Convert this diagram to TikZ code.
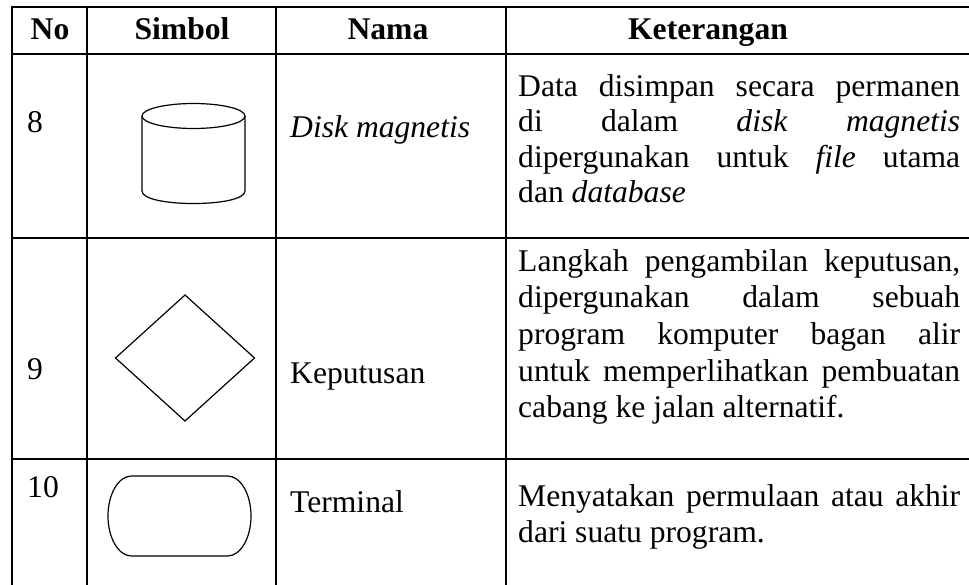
\documentclass[tikz,border=0pt]{standalone}
\usepackage{fontspec}
\setmainfont{Liberation Serif}
\begin{document}
\begin{tikzpicture}[x=1pt,y=-1pt,
  grid/.style={line width=2.6pt},
  shp/.style={line width=1.2pt},
  hd/.style={font=\fontsize{31.6}{35.5}\selectfont\bfseries, anchor=base, inner sep=0pt},
  tx/.style={font=\fontsize{31.6}{35.5}\selectfont, anchor=base west, inner sep=0pt},
  desc/.style={font=\fontsize{31.6}{35.5}\selectfont, align=left, anchor=north west, inner sep=0pt},
]
\useasboundingbox (0,0) rectangle (969,585);
\newcommand{\jl}[1]{\makebox[442pt][s]{#1}}
% grid
\draw[grid] (12,7) -- (975,7);
\draw[grid] (12,54) -- (975,54);
\draw[grid] (12,238) -- (975,238);
\draw[grid] (12,459) -- (975,459);
\draw[grid] (12,5.7) -- (12,592);
\draw[grid] (87,5.7) -- (87,592);
\draw[grid] (276,5.7) -- (276,592);
\draw[grid] (506,5.7) -- (506,592);
% header
\node[hd] (hno) at (50,40) {No};
\node[hd] (hsim) at (182,40) {Simbol};
\node[hd] (hnama) at (388,40) {Nama};
\node[hd] (hket) at (708,40) {Keterangan};
% row 8
\node[tx] (n8) at (27,133) {8};
\draw[shp] (193.5,116) ellipse [x radius=51.5, y radius=12.5];
\draw[shp] (142,116) -- (142,191) .. controls (142,207.7) and (245,207.7) .. (245,191) -- (245,116);
\node[tx] (nm8) at (290,138) {\itshape Disk magnetis};
\node[desc] (d8) at (518,96-24.85) {\strut\jl{Data disimpan secara permanen}\\
\jl{di dalam \textit{disk} \textit{magnetis}}\\
\jl{dipergunakan untuk \textit{file} utama}\\
dan \textit{database}};
% row 9
\node[tx] (n9) at (27,379) {9};
\draw[shp] (185,295) -- (254.5,358) -- (185,421) -- (115.5,358) -- cycle;
\node[tx] (nm9) at (290,383) {Keputusan};
\node[desc, font=\fontsize{31.6}{36.7}\selectfont] (d9) at (518,271-25.7) {\strut\jl{Langkah pengambilan keputusan,}\\
\jl{dipergunakan dalam sebuah}\\
\jl{program komputer bagan alir}\\
\jl{untuk memperlihatkan pembuatan}\\
cabang ke jalan alternatif.};
% row 10
\node[tx] (n10) at (27,497) {10};
\draw[shp] (131.5,476) -- (227.5,476)
  .. controls (240.5,476) and (251,494) .. (251,516)
  .. controls (251,538) and (240.5,556) .. (227.5,556)
  -- (131.5,556)
  .. controls (118.5,556) and (108,538) .. (108,516)
  .. controls (108,494) and (118.5,476) .. (131.5,476) -- cycle;
\node[tx] (nm10) at (290,512) {Terminal};
\node[desc, font=\fontsize{31.6}{36}\selectfont] (d10) at (518,506-25.2) {\strut\jl{Menyatakan permulaan atau akhir}\\
dari suatu program.};
\end{tikzpicture}
\end{document}
